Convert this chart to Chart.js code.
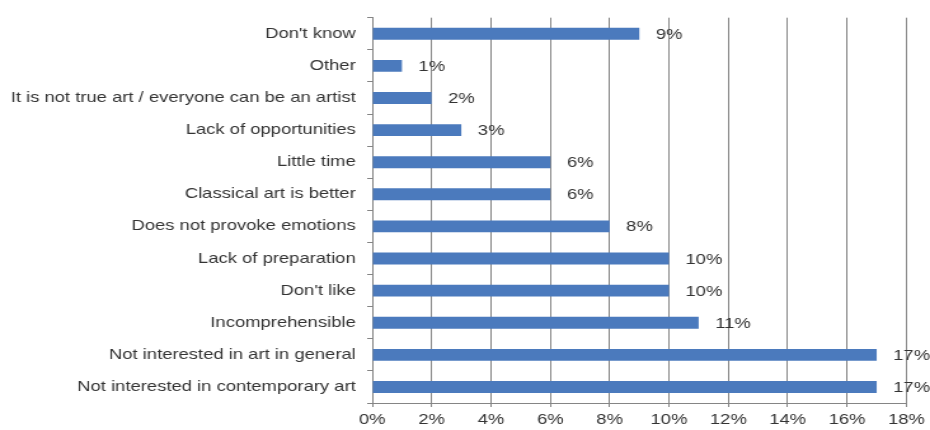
<!DOCTYPE html>
<html>
<head>
<meta charset="utf-8">
<script src="https://cdn.jsdelivr.net/npm/chart.js@4/dist/chart.umd.min.js"></script>
<style>
  html, body { margin: 0; padding: 0; background: #fff; overflow: hidden; }
  /* the source picture is stretched sideways, so the canvas is too */
  #wrap { width: 732px; height: 430px; transform: scaleX(1.2705); transform-origin: 0 0; }
</style>
</head>
<body>
<div id="wrap"><canvas id="reasonsChart" width="732" height="430"></canvas></div>
<script>
  // data, top to bottom
  const categories = [
    "Don't know",
    'Other',
    'It is not true art / everyone can be an artist',
    'Lack of opportunities',
    'Little time',
    'Classical art is better',
    'Does not provoke emotions',
    'Lack of preparation',
    "Don't like",
    'Incomprehensible',
    'Not interested in art in general',
    'Not interested in contemporary art'
  ];
  const shares = [9, 1, 2, 3, 6, 6, 8, 10, 10, 11, 17, 17];
  const xTicks = [0, 2, 4, 6, 8, 10, 12, 14, 16, 18];

  const FONT = '"Liberation Sans", Arial, sans-serif';

  // value labels at the end of each bar
  const barLabels = {
    id: 'barLabels',
    afterDatasetsDraw(chart) {
      const c = chart.ctx;
      const meta = chart.getDatasetMeta(0);
      c.save();
      c.font = '14.5px ' + FONT;
      c.fillStyle = '#333';
      c.textAlign = 'left';
      c.textBaseline = 'middle';
      meta.data.forEach((bar, i) => {
        c.fillText(shares[i] + '%', bar.x + 13, bar.y + 1);
      });
      c.restore();
    }
  };

  const ctx = document.getElementById('reasonsChart').getContext('2d');
  new Chart(ctx, {
    type: 'bar',
    data: {
      labels: categories,
      datasets: [{
        data: shares,
        backgroundColor: '#4b7abd',
        borderWidth: 0,
        barPercentage: 0.37,
        categoryPercentage: 1
      }]
    },
    options: {
      indexAxis: 'y',
      responsive: false,
      animation: false,
      layout: { padding: { top: 16, right: 18.6, left: 0, bottom: 0 } },
      plugins: {
        legend: { display: false },
        tooltip: { enabled: false }
      },
      scales: {
        x: {
          min: 0,
          max: 18,
          afterBuildTicks(scale) { scale.ticks = xTicks.map(v => ({ value: v })); },
          afterFit(scale) { scale.height = 27; },
          ticks: {
            callback: v => v + '%',
            color: '#333',
            font: { size: 14.5, family: FONT },
            padding: 4
          },
          grid: { color: '#858585', lineWidth: 1, tickLength: 4 },
          border: { color: '#858585' }
        },
        y: {
          afterFit(scale) { scale.width = 293; },
          ticks: {
            color: '#333',
            font: { size: 14.5, family: FONT },
            padding: 9
          },
          grid: { drawOnChartArea: false, offset: true, color: '#858585', tickLength: 4 },
          border: { color: '#858585' }
        }
      }
    },
    plugins: [barLabels]
  });
</script>
</body>
</html>
